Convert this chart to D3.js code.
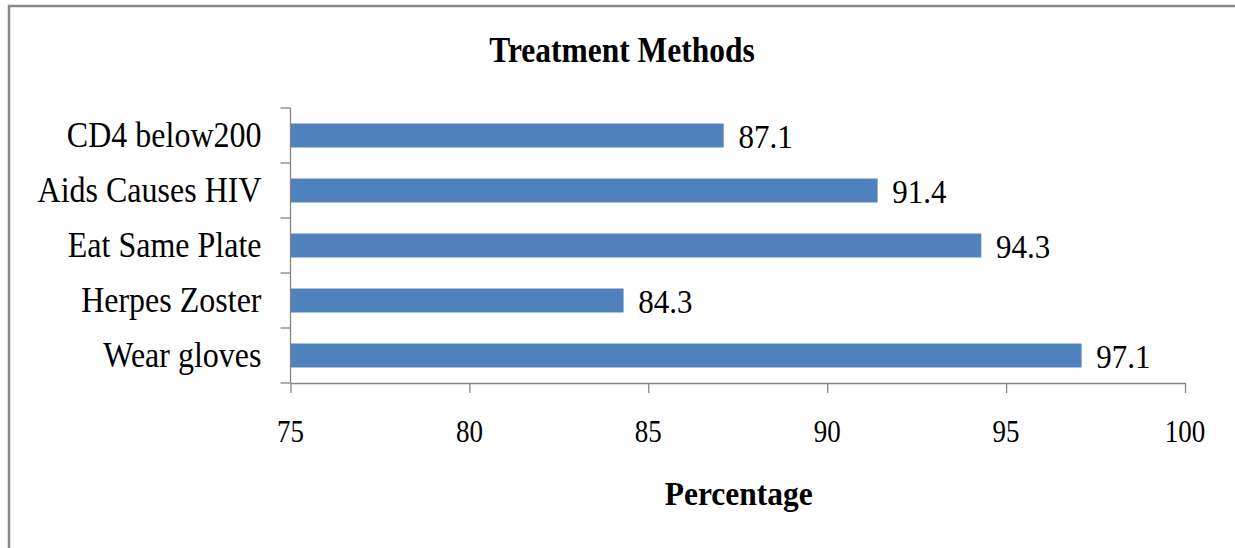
<!DOCTYPE html>
<html>
<head>
<meta charset="utf-8">
<script src="https://cdn.jsdelivr.net/npm/d3@7"></script>
<style>
  html, body { margin: 0; padding: 0; background: #fff; }
  svg { display: block; }
  text { font-family: "Liberation Serif", "Times New Roman", serif; fill: #000; }
</style>
</head>
<body>
<div id="chart"></div>
<script>
// data
const categories = ['CD4 below200', 'Aids Causes HIV', 'Eat Same Plate', 'Herpes Zoster', 'Wear gloves'];
const values = [87.1, 91.4, 94.3, 84.3, 97.1];
const xTicks = [75, 80, 85, 90, 95, 100];
const chartTitle = 'Treatment Methods';
const xTitle = 'Percentage';

const W = 1235, H = 548;
const margin = { left: 290.5, right: 50, top: 108, bottom: 165 };

const svg = d3.select('#chart').append('svg')
    .attr('width', W)
    .attr('height', H);

// outer frame (runs off the right and bottom edges in the original)
svg.append('rect')
    .attr('x', 9).attr('y', 6)
    .attr('width', W).attr('height', H)
    .attr('fill', 'none')
    .attr('stroke', '#888')
    .attr('stroke-width', 2.5);

const x = d3.scaleLinear().domain([75, 100]).range([margin.left, W - margin.right]);
const y = d3.scaleBand().domain(categories)
    .range([margin.top, H - margin.bottom])
    .paddingInner(0.575).paddingOuter(0.2875);

const axisColor = '#868686';

// text in the original is a bit stretched vertically
function stretchText(sel, sy) {
    sel.attr('transform', function() {
        const t = d3.select(this);
        return `translate(${t.attr('data-x')},${t.attr('data-y')}) scale(1,${sy})`;
    });
}

// bars
svg.selectAll('rect.bar')
    .data(values)
    .enter()
    .append('rect')
    .attr('class', 'bar')
    .attr('x', x(75))
    .attr('y', (d, i) => y(categories[i]))
    .attr('width', d => x(d) - x(75))
    .attr('height', y.bandwidth())
    .attr('fill', '#4F81BD')
    .attr('stroke', '#6f97c9')
    .attr('stroke-width', 0.6);

// value labels
svg.selectAll('text.val')
    .data(values)
    .enter()
    .append('text')
    .attr('class', 'val')
    .attr('data-x', d => x(d) + 15)
    .attr('data-y', (d, i) => y(categories[i]) + y.bandwidth() / 2 + 12)
    .attr('font-size', 31)
    .text(d => d.toFixed(1))
    .call(stretchText, 1.1);

// y axis: line with ticks on category boundaries
const yAxisG = svg.append('g');
yAxisG.append('line')
    .attr('x1', x(75)).attr('x2', x(75))
    .attr('y1', margin.top).attr('y2', H - margin.bottom)
    .attr('stroke', axisColor).attr('stroke-width', 1.3);
const step = y.step();
const bounds = d3.range(categories.length + 1).map(i => margin.top + i * step);
yAxisG.selectAll('line.tk')
    .data(bounds)
    .enter()
    .append('line')
    .attr('class', 'tk')
    .attr('x1', x(75) - 10).attr('x2', x(75))
    .attr('y1', d => d).attr('y2', d => d)
    .attr('stroke', axisColor).attr('stroke-width', 1.3);

// category labels
svg.selectAll('text.cat')
    .data(categories)
    .enter()
    .append('text')
    .attr('class', 'cat')
    .attr('text-anchor', 'end')
    .attr('data-x', x(75) - 29)
    .attr('data-y', d => y(d) + y.bandwidth() / 2 + 11.5)
    .attr('font-size', 32)
    .text(d => d)
    .call(stretchText, 1.12);

// x axis
const xAxis = d3.axisBottom(x).tickValues(xTicks).tickSize(10).tickSizeOuter(0).tickFormat(d3.format('d'));
const xAxisG = svg.append('g')
    .attr('transform', `translate(0,${H - margin.bottom})`)
    .call(xAxis);
xAxisG.select('.domain').attr('stroke', axisColor).attr('stroke-width', 1.3);
xAxisG.selectAll('.tick line').attr('stroke', axisColor).attr('stroke-width', 1.3);
xAxisG.selectAll('.tick text').remove();

svg.selectAll('text.xtick')
    .data(xTicks)
    .enter()
    .append('text')
    .attr('class', 'xtick')
    .attr('text-anchor', 'middle')
    .attr('data-x', d => x(d))
    .attr('data-y', H - margin.bottom + 59)
    .attr('font-size', 27)
    .text(d => d)
    .call(stretchText, 1.2);

// titles
svg.append('text')
    .attr('text-anchor', 'middle')
    .attr('data-x', (9 + W) / 2)
    .attr('data-y', 62)
    .attr('font-size', 31.5)
    .attr('font-weight', 'bold')
    .text(chartTitle)
    .call(stretchText, 1.14);

svg.append('text')
    .attr('text-anchor', 'middle')
    .attr('data-x', (x(75) + x(100)) / 2 + 1)
    .attr('data-y', 505)
    .attr('font-size', 31.5)
    .attr('font-weight', 'bold')
    .text(xTitle)
    .call(stretchText, 1.08);
</script>
</body>
</html>
